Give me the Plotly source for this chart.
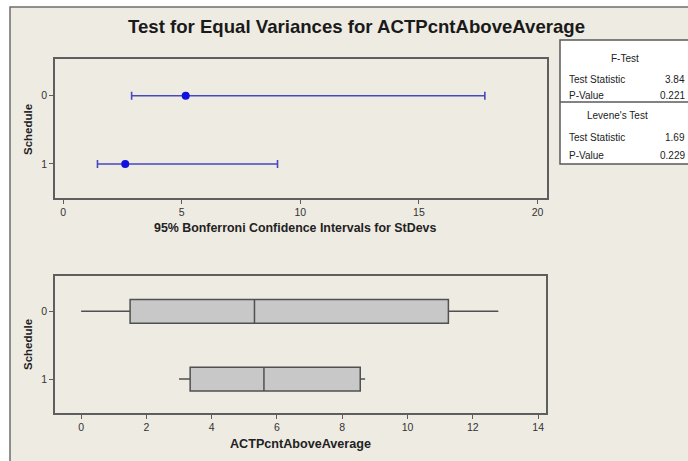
import plotly.graph_objects as go

W, H = 688, 461

# ---- data ----
schedule = [0, 1]
schedule_labels = ["0", "1"]
sd_estimate = [5.17, 2.62]
ci_lower = [2.89, 1.45]
ci_upper = [17.78, 9.04]

box_lowerfence = [0.0, 3.0]
box_q1 = [1.5, 3.34]
box_median = [5.31, 5.6]
box_q3 = [11.25, 8.55]
box_upperfence = [12.78, 8.7]

ftest_stat, ftest_p = "3.84", "0.221"
levene_stat, levene_p = "1.69", "0.229"

top_ticks = [0, 5, 10, 15, 20]
bottom_ticks = [0, 2, 4, 6, 8, 10, 12, 14]

BEIGE = "#EEEBE2"
FONT = "Liberation Sans"


def px(x):
    return x / W


def py(y):
    return 1 - y / H


fig = go.Figure()

fig.add_trace(go.Scatter(
    x=sd_estimate, y=schedule, mode="markers",
    marker=dict(color="#1010E0", size=8),
    error_x=dict(type="data", symmetric=False,
                 array=[u - e for u, e in zip(ci_upper, sd_estimate)],
                 arrayminus=[e - l for e, l in zip(sd_estimate, ci_lower)],
                 color="#4848C0", thickness=1.6, width=4),
    xaxis="x", yaxis="y", showlegend=False, hoverinfo="skip"))

fig.add_trace(go.Box(
    y=schedule, orientation="h",
    q1=box_q1, median=box_median, q3=box_q3,
    lowerfence=box_lowerfence, upperfence=box_upperfence,
    width=0.35, whiskerwidth=0,
    fillcolor="#C8C8C8", line=dict(color="#505050", width=1.5),
    xaxis="x2", yaxis="y2", showlegend=False, hoverinfo="skip"))

axis_common = dict(showline=True, mirror=True, linecolor="#5E5E5E", linewidth=1.5,
                   ticks="outside", ticklen=4, tickcolor="#5E5E5E", showgrid=False,
                   zeroline=False, tickfont=dict(family=FONT, size=10.5, color="#333333"))

fig.update_layout(
    width=W, height=H,
    margin=dict(l=0, r=0, t=0, b=0),
    paper_bgcolor="white", plot_bgcolor="white",
    xaxis=dict(domain=[px(55), px(547)], range=[-0.34, 20.4], tickvals=top_ticks,
               anchor="y", **axis_common),
    yaxis=dict(domain=[py(198), py(59)], range=[1.5, -0.54], tickvals=schedule,
               ticktext=schedule_labels, anchor="x", **axis_common),
    xaxis2=dict(domain=[px(55), px(546)], range=[-0.8, 14.24], tickvals=bottom_ticks,
                anchor="y2", **axis_common),
    yaxis2=dict(domain=[py(413), py(276)], range=[1.5, -0.52], tickvals=schedule,
                ticktext=schedule_labels, anchor="x2", **axis_common),
)

shapes = [
    dict(type="rect", xref="paper", yref="paper", x0=px(10), x1=1.02, y0=-0.02, y1=py(7),
         fillcolor=BEIGE, line=dict(color="#6E6E6E", width=1.5), layer="below"),
    dict(type="rect", xref="paper", yref="paper", x0=px(560), x1=1.02, y0=py(164), y1=py(40),
         fillcolor="white", line=dict(color="#5A5A5A", width=1.5), layer="below"),
    dict(type="line", xref="paper", yref="paper", x0=px(560), x1=1.02, y0=py(102), y1=py(102),
         line=dict(color="#5A5A5A", width=1.5)),
]

TF = dict(family=FONT, size=10, color="#222222")
annotations = [
    dict(text="<b>Test for Equal Variances for ACTPcntAboveAverage</b>", x=px(356), y=py(26),
         font=dict(family=FONT, size=18.6, color="#1A1A1A")),
    dict(text="<b>Schedule</b>", x=px(28), y=py(130), textangle=-90,
         font=dict(family=FONT, size=11.5, color="#222222")),
    dict(text="<b>Schedule</b>", x=px(28), y=py(345), textangle=-90,
         font=dict(family=FONT, size=11.5, color="#222222")),
    dict(text="<b>95% Bonferroni Confidence Intervals for StDevs</b>", x=px(295), y=py(228),
         font=dict(family=FONT, size=12.4, color="#222222")),
    dict(text="<b>ACTPcntAboveAverage</b>", x=px(300), y=py(444),
         font=dict(family=FONT, size=12.6, color="#222222")),
    dict(text="F-Test", x=px(625), y=py(59), font=TF),
    dict(text="Test Statistic", x=px(567), y=py(79), xanchor="left", font=TF),
    dict(text=ftest_stat, x=px(687), y=py(79), xanchor="right", font=TF),
    dict(text="P-Value", x=px(567), y=py(95), xanchor="left", font=TF),
    dict(text=ftest_p, x=px(687), y=py(95), xanchor="right", font=TF),
    dict(text="Levene's Test", x=px(617), y=py(116), font=TF),
    dict(text="Test Statistic", x=px(567), y=py(137), xanchor="left", font=TF),
    dict(text=levene_stat, x=px(687), y=py(137), xanchor="right", font=TF),
    dict(text="P-Value", x=px(567), y=py(155), xanchor="left", font=TF),
    dict(text=levene_p, x=px(687), y=py(155), xanchor="right", font=TF),
]
for a in annotations:
    a.setdefault("xanchor", "center")
    a.update(xref="paper", yref="paper", yanchor="middle", showarrow=False)

fig.update_layout(shapes=shapes, annotations=annotations)

fig.write_html("out.html")
